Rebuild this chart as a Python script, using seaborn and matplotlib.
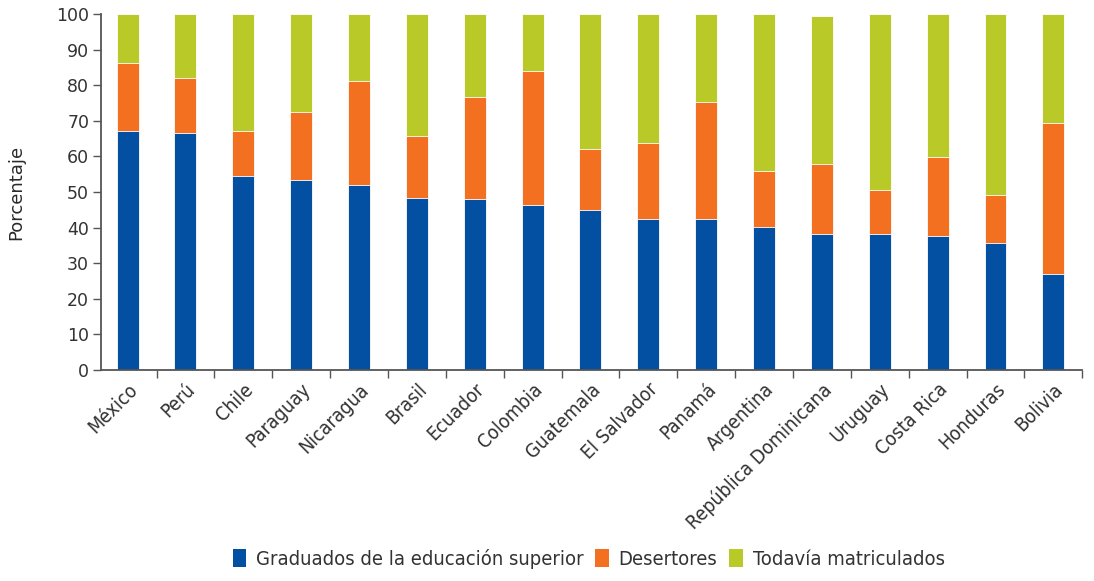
import matplotlib
matplotlib.use("Agg")
import matplotlib.pyplot as plt
import numpy as np
import pandas as pd
import seaborn as sns
from matplotlib.patches import Patch
from matplotlib import font_manager

# Datos (porcentajes)
paises = ["México", "Perú", "Chile", "Paraguay", "Nicaragua", "Brasil", "Ecuador",
          "Colombia", "Guatemala", "El Salvador", "Panamá", "Argentina",
          "República Dominicana", "Uruguay", "Costa Rica", "Honduras", "Bolivia"]
graduados = [67.1, 66.6, 54.6, 53.5, 52.1, 48.2, 47.9, 46.3, 44.9, 42.5, 42.5,
             40.1, 38.1, 38.1, 37.7, 35.7, 27.1]
desertores = [19.2, 15.4, 12.5, 18.9, 29.0, 17.4, 28.8, 37.6, 17.3, 21.2, 32.8,
              15.9, 19.8, 12.6, 22.2, 13.5, 42.4]
matriculados = [13.7, 18.0, 32.9, 27.6, 18.9, 34.4, 23.3, 16.1, 37.8, 36.3, 24.7,
                44.0, 41.5, 49.3, 40.1, 50.8, 30.5]
series = ["Graduados de la educación superior", "Desertores", "Todavía matriculados"]
colores = ["#0350A3", "#F37021", "#B9C927"]

df = pd.DataFrame({"pais": paises, "grad": graduados, "des": desertores, "mat": matriculados})
df["cum1"] = df["grad"]
df["cum2"] = df["grad"] + df["des"]
df["cum3"] = df["cum2"] + df["mat"]

sns.set_style("ticks")
nombres = {f.name for f in font_manager.fontManager.ttflist}
if "DejaVu Sans Condensed" in nombres:
    condensada = {"family": ["DejaVu Sans Condensed", "DejaVu Sans"]}
else:
    condensada = {"family": ["DejaVu Sans"], "stretch": "condensed"}
plt.rcParams["font.family"] = ["DejaVu Sans"]

fig = plt.figure(figsize=(10.94, 5.81), dpi=100)
ax = fig.add_axes([0.0923, 0.363, 0.897, 0.613])

# Barras apiladas: de la más alta a la más baja
for col, c in zip(["cum3", "cum2", "cum1"], colores[::-1]):
    sns.barplot(data=df, x="pais", y=col, color=c, saturation=1, width=0.38,
                ax=ax, linewidth=0.6, edgecolor="white")

ax.set_ylim(0, 100)
ax.set_xlim(-0.46, 16.5)
ax.set_yticks(range(0, 101, 10))
ax.set_xticks(np.arange(len(paises)))
ax.set_xticklabels(paises, rotation=45, ha="right", rotation_mode="anchor",
                   fontsize=14, color="#333333", **condensada)
ax.tick_params(axis="x", length=0, pad=7)
ax.set_xticks(np.arange(len(paises)) + 0.5, minor=True)
ax.tick_params(axis="x", which="minor", length=6, width=1, color="#555555")
ax.tick_params(axis="y", labelsize=12.5, colors="#555555", labelcolor="#333333",
               length=5.5, width=1, pad=3)
ax.set_xlabel("")
ax.set_ylabel("Porcentaje", fontsize=13, color="#2a2a2a", labelpad=22)
sns.despine(ax=ax)
for s in ["left", "bottom"]:
    ax.spines[s].set_color("#555555")
    ax.spines[s].set_linewidth(1.3)

handles = [Patch(facecolor=c, edgecolor="none") for c in colores]
fig.legend(handles, series, loc="lower center", bbox_to_anchor=(0.538, -0.01), ncol=3,
           frameon=False, prop=dict(size=14.5, **condensada), handlelength=0.65,
           handleheight=1.0, handletextpad=0.5, columnspacing=0.6, labelcolor="#333333")

fig.savefig("out.png", dpi=100)
